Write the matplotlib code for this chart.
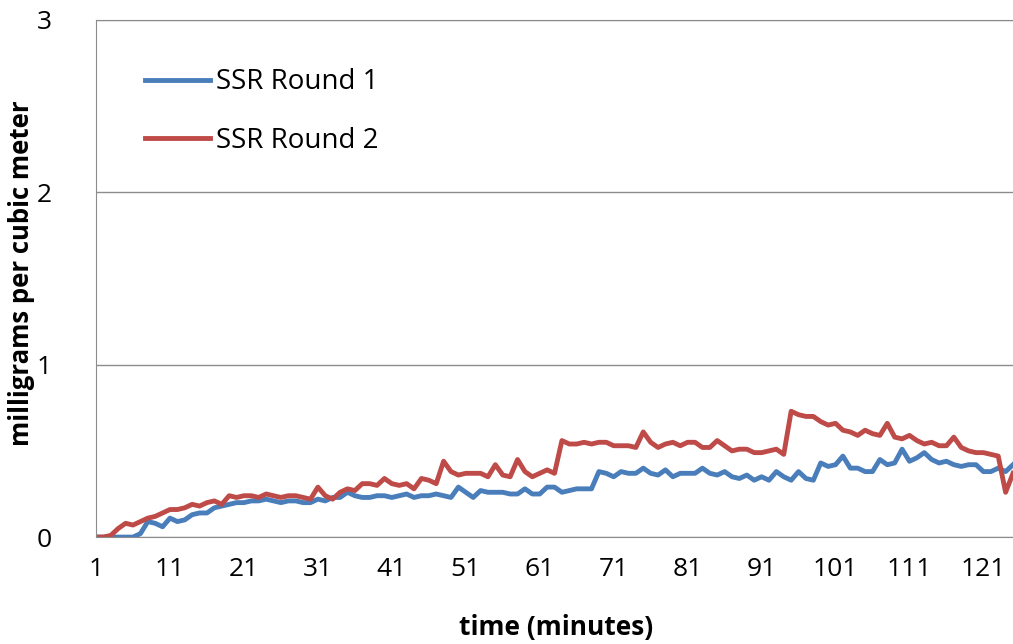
import matplotlib
matplotlib.use("Agg")
import matplotlib.pyplot as plt

# minute index 1..125
minutes = list(range(1, 126))

ssr_round_1 = [
    0, 0, 0, 0, 0, 0, 0.02, 0.09, 0.08, 0.06,
    0.11, 0.09, 0.10, 0.13, 0.14, 0.14, 0.17, 0.18, 0.19, 0.20,
    0.20, 0.21, 0.21, 0.22, 0.21, 0.20, 0.21, 0.21, 0.20, 0.20,
    0.22, 0.21, 0.23, 0.23, 0.26, 0.24, 0.23, 0.23, 0.24, 0.24,
    0.23, 0.24, 0.25, 0.23, 0.24, 0.24, 0.25, 0.24, 0.23, 0.29,
    0.26, 0.23, 0.27, 0.26, 0.26, 0.26, 0.25, 0.25, 0.28, 0.25,
    0.25, 0.29, 0.29, 0.26, 0.27, 0.28, 0.28, 0.28, 0.38, 0.37,
    0.35, 0.38, 0.37, 0.37, 0.40, 0.37, 0.36, 0.39, 0.35, 0.37,
    0.37, 0.37, 0.40, 0.37, 0.36, 0.38, 0.35, 0.34, 0.36, 0.33,
    0.35, 0.33, 0.38, 0.35, 0.33, 0.38, 0.34, 0.33, 0.43, 0.41,
    0.42, 0.47, 0.40, 0.40, 0.38, 0.38, 0.45, 0.42, 0.43, 0.51,
    0.44, 0.46, 0.49, 0.45, 0.43, 0.44, 0.42, 0.41, 0.42, 0.42,
    0.38, 0.38, 0.40, 0.38, 0.42,
]

ssr_round_2 = [
    0, 0, 0.01, 0.05, 0.08, 0.07, 0.09, 0.11, 0.12, 0.14,
    0.16, 0.16, 0.17, 0.19, 0.18, 0.20, 0.21, 0.19, 0.24, 0.23,
    0.24, 0.24, 0.23, 0.25, 0.24, 0.23, 0.24, 0.24, 0.23, 0.22,
    0.29, 0.24, 0.22, 0.26, 0.28, 0.27, 0.31, 0.31, 0.30, 0.34,
    0.31, 0.30, 0.31, 0.28, 0.34, 0.33, 0.31, 0.44, 0.38, 0.36,
    0.37, 0.37, 0.37, 0.35, 0.42, 0.36, 0.35, 0.45, 0.38, 0.35,
    0.37, 0.39, 0.37, 0.56, 0.54, 0.54, 0.55, 0.54, 0.55, 0.55,
    0.53, 0.53, 0.53, 0.52, 0.61, 0.55, 0.52, 0.54, 0.55, 0.53,
    0.55, 0.55, 0.52, 0.52, 0.56, 0.53, 0.50, 0.51, 0.51, 0.49,
    0.49, 0.50, 0.51, 0.48, 0.73, 0.71, 0.70, 0.70, 0.67, 0.65,
    0.66, 0.62, 0.61, 0.59, 0.62, 0.60, 0.59, 0.66, 0.58, 0.57,
    0.59, 0.56, 0.54, 0.55, 0.53, 0.53, 0.58, 0.52, 0.50, 0.49,
    0.49, 0.48, 0.47, 0.26, 0.37,
]

x_ticks = list(range(1, 126, 10))
y_ticks = [0, 1, 2, 3]

plt.rcParams['font.family'] = ['Open Sans', 'DejaVu Sans']

fig = plt.figure(figsize=(10.13, 6.44), dpi=100)
ax = fig.add_axes([0.0948, 0.166, 0.9052, 0.803])

ax.plot(minutes, ssr_round_1, color='#4A7EBB', lw=3.5, label='SSR Round 1')
ax.plot(minutes, ssr_round_2, color='#BE4B48', lw=3.5, label='SSR Round 2')

ax.set_xlim(1, 125)
ax.set_ylim(0, 3)
ax.set_xticks(x_ticks)
ax.set_yticks(y_ticks)
ax.tick_params(length=0, labelsize=19, pad=14)
ax.tick_params(axis='y', pad=32)

# gridlines and frame in Excel grey
ax.grid(axis='y', color='#8c8c8c', lw=1)
ax.set_axisbelow(True)
for side in ['left', 'bottom', 'top']:
    ax.spines[side].set_color('#8c8c8c')
ax.spines['right'].set_visible(False)

ax.set_xlabel('time (minutes)', fontsize=19, fontweight='bold', va='center')
ax.xaxis.set_label_coords(0.502, -0.174)
ax.set_ylabel('milligrams per cubic meter', fontsize=18.5, fontweight='bold', va='center')
ax.yaxis.set_label_coords(-0.081, 0.51)

ax.legend(loc='upper left', bbox_to_anchor=(0.026, 0.955), frameon=False,
          fontsize=20, handlelength=2.35, handletextpad=0.2, labelspacing=1.1)

plt.savefig('out.png', dpi=100)
